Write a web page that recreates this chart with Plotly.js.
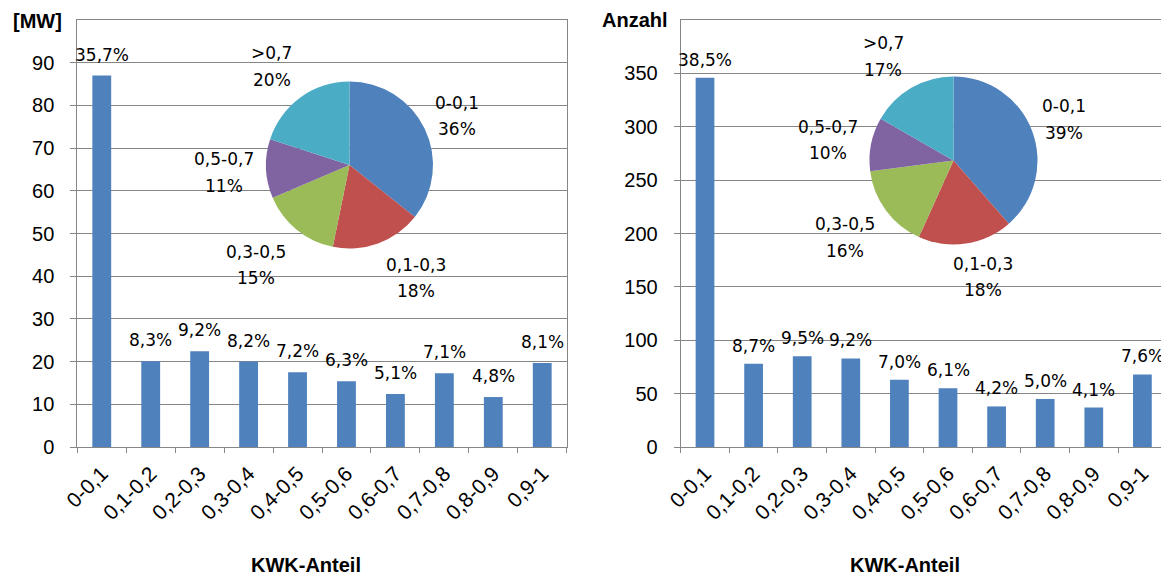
<!DOCTYPE html>
<html>
<head>
<meta charset="utf-8">
<script src="https://cdn.plot.ly/plotly-3.0.1.min.js"></script>
<style>html,body{margin:0;padding:0;background:#fff;}#chart{width:1161px;height:576px;}</style>
</head>
<body>
<div id="chart"></div>
<script>
// ---- data ----
const categories = ['0-0,1','0,1-0,2','0,2-0,3','0,3-0,4','0,4-0,5','0,5-0,6','0,6-0,7','0,7-0,8','0,8-0,9','0,9-1'];
const mwValues = [87, 20.1, 22.4, 20.0, 17.5, 15.4, 12.4, 17.3, 11.7, 19.7];
const mwShares = [35.7, 8.3, 9.2, 8.2, 7.2, 6.3, 5.1, 7.1, 4.8, 8.1];
const countValues = [346, 78, 85, 83, 63, 55, 38, 45, 37, 68];
const countShares = [38.5, 8.7, 9.5, 9.2, 7.0, 6.1, 4.2, 5.0, 4.1, 7.6];
const pieLabels = ['0-0,1', '0,1-0,3', '0,3-0,5', '0,5-0,7', '>0,7'];
const pieMW = [35.7, 17.5, 15.4, 11.4, 20.0];
const pieCount = [38.5, 18.2, 16.2, 10.3, 16.7];
const leftYTitle = '[MW]';
const rightYTitle = 'Anzahl';
const xTitle = 'KWK-Anteil';

// ---- styling / layout helpers ----
const W = 1161, H = 576, MT = 20, MB = 129;
const PH = H - MT - MB;
const px = v => v / W;
const py = v => (H - MB - v) / PH;
const blue = '#4F81BD';
const pieColors = ['#4F81BD', '#C0504D', '#9BBB59', '#8064A2', '#4BACC6'];
const gray = '#868686';
const tickFamily = 'Liberation Sans, Arial, sans-serif';
const labelFont = {family: 'DejaVu Sans, sans-serif', size: 17, color: '#000'};

const fmt = v => v.toFixed(1).replace('.', ',') + '%';

const traces = [
  {type: 'bar', x: categories, y: mwValues, xaxis: 'x', yaxis: 'y',
   marker: {color: blue}, hoverinfo: 'x+y'},
  {type: 'bar', x: categories, y: countValues, xaxis: 'x2', yaxis: 'y2',
   marker: {color: blue}, hoverinfo: 'x+y'},
  {type: 'pie', labels: pieLabels, values: pieMW, sort: false, direction: 'clockwise',
   rotation: 0, textinfo: 'none', marker: {colors: pieColors, line: {width: 0}},
   domain: {x: [px(349.5 - 83.5), px(349.5 + 83.5)], y: [py(165 + 83.5), py(165 - 83.5)]}},
  {type: 'pie', labels: pieLabels, values: pieCount, sort: false, direction: 'clockwise',
   rotation: 0, textinfo: 'none', marker: {colors: pieColors, line: {width: 0}},
   domain: {x: [px(953.5 - 84), px(953.5 + 84)], y: [py(160.5 + 84), py(160.5 - 84)]}}
];

const annotations = [];
// bar labels
mwShares.forEach((s, i) => annotations.push({
  xref: 'x', yref: 'y', x: categories[i], y: mwValues[i], text: fmt(s),
  showarrow: false, yanchor: 'middle', yshift: 21, font: labelFont}));
countShares.forEach((s, i) => annotations.push({
  xref: 'x2', yref: 'y2', x: categories[i], y: countValues[i], text: fmt(s),
  showarrow: false, yanchor: 'middle', yshift: 18, font: labelFont}));

// pie labels (name line + percent line)
const leftPiePos = [[456.5, 102.5], [416.4, 265], [255.8, 251.7], [223.5, 159.3], [271.6, 53.3]];
const rightPiePos = [[1064, 106], [983, 264], [844.7, 224], [828.2, 126.7], [883.4, 43.3]];
function pieAnn(vals, pos) {
  const tot = vals.reduce((a, b) => a + b, 0);
  vals.forEach((v, i) => {
    annotations.push({xref: 'paper', yref: 'paper', x: px(pos[i][0]), y: py(pos[i][1]),
      text: pieLabels[i], showarrow: false, xanchor: 'center', yanchor: 'middle', font: labelFont});
    annotations.push({xref: 'paper', yref: 'paper', x: px(pos[i][0]), y: py(pos[i][1] + 26.5),
      text: Math.round(v / tot * 100) + '%', showarrow: false, xanchor: 'center', yanchor: 'middle', font: labelFont});
  });
}
pieAnn(pieMW, leftPiePos);
pieAnn(pieCount, rightPiePos);

// axis titles
const titleFont = {family: tickFamily, size: 20, color: '#000', weight: 'bold'};
annotations.push({xref: 'paper', yref: 'paper', x: px(37.7), y: py(21), text: '<b>' + leftYTitle + '</b>',
  showarrow: false, xanchor: 'center', yanchor: 'middle', font: titleFont});
annotations.push({xref: 'paper', yref: 'paper', x: px(634.7), y: py(20), text: '<b>' + rightYTitle + '</b>',
  showarrow: false, xanchor: 'center', yanchor: 'middle', font: titleFont});
annotations.push({xref: 'paper', yref: 'paper', x: px(306), y: py(565), text: '<b>' + xTitle + '</b>',
  showarrow: false, xanchor: 'center', yanchor: 'middle', font: titleFont});
annotations.push({xref: 'paper', yref: 'paper', x: px(905), y: py(565), text: '<b>' + xTitle + '</b>',
  showarrow: false, xanchor: 'center', yanchor: 'middle', font: titleFont});

const xBase = {
  type: 'category', showline: true, linecolor: gray, linewidth: 1, mirror: true,
  ticks: 'outside', ticklen: 5, tickcolor: gray, tickson: 'boundaries', tickangle: -45,
  ticklabelstandoff: 5,
  tickfont: {family: tickFamily, size: 21, color: '#000'}, showgrid: false, zeroline: false,
  fixedrange: true
};
const yBase = {
  showline: true, linecolor: gray, linewidth: 1, ticks: 'outside', ticklen: 6, tickcolor: gray,
  showgrid: true, gridcolor: gray, gridwidth: 1, zeroline: false, ticklabelstandoff: 12,
  tickfont: {family: tickFamily, size: 20, color: '#000'}, fixedrange: true
};

const layout = {
  width: W, height: H,
  margin: {l: 0, r: 0, t: MT, b: MB, pad: 0},
  paper_bgcolor: '#fff', plot_bgcolor: '#fff',
  showlegend: false, bargap: 0.615,
  xaxis: Object.assign({}, xBase, {domain: [px(77.3), px(566.7)], anchor: 'y', range: [-0.5, 9.5]}),
  yaxis: Object.assign({}, yBase, {domain: [0, 1], anchor: 'x', range: [0, 100], mirror: true,
    tickvals: [0, 10, 20, 30, 40, 50, 60, 70, 80, 90]}),
  xaxis2: Object.assign({}, xBase, {domain: [px(680.7), 1], anchor: 'y2', range: [-0.5, -0.5 + (W - 680.7) / 48.6]}),
  yaxis2: Object.assign({}, yBase, {domain: [0, 1], anchor: 'x2', range: [0, 400], mirror: false,
    tickvals: [0, 50, 100, 150, 200, 250, 300, 350]}),
  annotations: annotations
};

Plotly.newPlot('chart', traces, layout, {displayModeBar: false, staticPlot: true});
</script>
</body>
</html>
